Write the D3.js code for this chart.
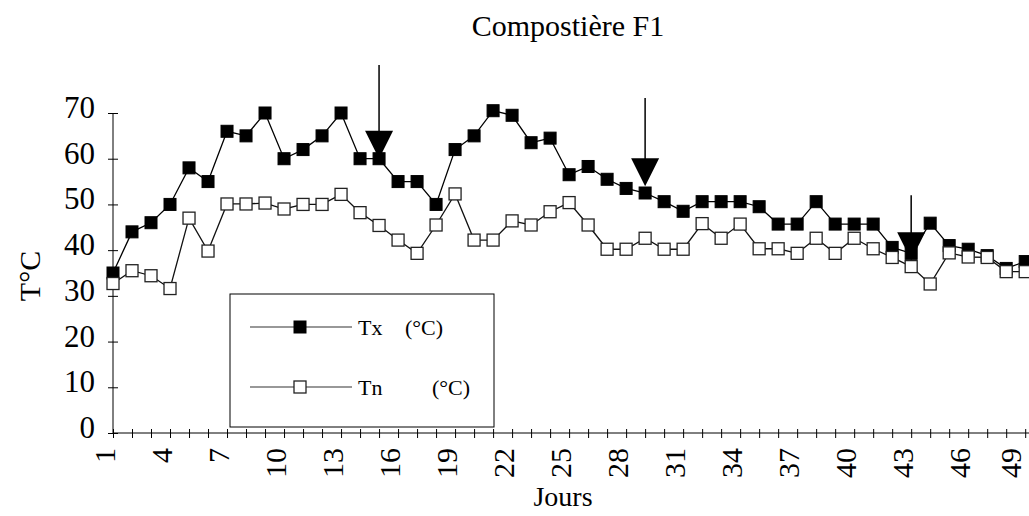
<html>
<script src='https://d3js.org/d3.v7.min.js'></script>
<style>
    body { margin: 0; background: white; }
    text { font-family: 'Liberation Serif', 'Times New Roman', serif; fill: black; }
    .tx { fill: black; stroke: black; }
    .tn { fill: white; stroke: #222; stroke-width: 1.3; }
</style>

<body onload='init()'>
    <svg width=1029 height=516>
    </svg>
    <script>
        // Data (day 1 .. 49)
        let days = d3.range(1, 50);
        let tx = [35, 44, 46, 50, 58, 55, 66, 65, 70, 60, 62, 65, 70, 60, 60, 55, 55, 50, 62, 65,
                  70.5, 69.5, 63.5, 64.5, 56.5, 58.3, 55.5, 53.5, 52.5, 50.6, 48.5, 50.6, 50.6, 50.6, 49.5,
                  45.7, 45.7, 50.6, 45.7, 45.7, 45.7, 40.6, 39.3, 45.9, 41, 40.2, 38.8, 36, 37.5];
        let tn = [32.7, 35.5, 34.4, 31.6, 47, 39.8, 50.1, 50.1, 50.3, 49, 50, 50, 52.2, 48.2, 45.4,
                  42.2, 39.3, 45.5, 52.3, 42.2, 42.2, 46.4, 45.5, 48.4, 50.4, 45.5, 40.2, 40.2, 42.6, 40.2,
                  40.2, 45.8, 42.6, 45.7, 40.3, 40.3, 39.3, 42.6, 39.3, 42.6, 40.3, 38.4, 36.4, 32.6, 39.4,
                  38.5, 38.4, 35.3, 35.3];
        let xTickLabels = d3.range(1, 50, 3);
        let yTickLabels = [0, 10, 20, 30, 40, 50, 60, 70];
        // arrows: day, value at the triangle tip, value at the top of the stem
        let arrowDays = [15, 29, 43];
        let arrowTips = [60, 54, 37.8];
        let arrowTops = [80.5, 73.3, 52];

        function init() {
            let svg = d3.select('svg');

            // Scales
            let x = d3.scaleLinear().domain([1, 49.2]).range([113, 1029]);
            let y = d3.scaleLinear().domain([0, 70]).range([433, 113]);

            // Title
            svg.append('text')
                .attr('x', 568).attr('y', 36)
                .attr('text-anchor', 'middle')
                .style('font-size', '30px')
                .text('Compostière F1');

            // y axis, ticks cross the line
            let yAxis = svg.append('g')
                .attr('transform', 'translate(113,0)')
                .call(d3.axisLeft(y).tickValues(yTickLabels).tickSize(5).tickFormat(''));
            yAxis.selectAll('.tick line').attr('x1', 5).attr('x2', -5);
            yAxis.select('.domain').attr('d', `M0,${y(70)}V${y(0)}`);
            svg.append('g').selectAll('text')
                .data(yTickLabels)
                .enter()
                .append('text')
                .attr('x', 95)
                .attr('y', d => y(d) + 5)
                .attr('text-anchor', 'end')
                .style('font-size', '31px')
                .text(d => d);

            // x axis, one tick per day
            let xAxis = svg.append('g')
                .attr('transform', `translate(0,${y(0)})`)
                .call(d3.axisBottom(x).tickValues(days).tickSize(5).tickFormat(''));
            xAxis.selectAll('.tick line').attr('y1', -4).attr('y2', 5);
            xAxis.select('.domain').attr('d', `M${x(1)},0H1029`);
            svg.append('g').selectAll('text')
                .data(xTickLabels)
                .enter()
                .append('text')
                .attr('transform', d => `translate(${Math.min(x(d) + 2, 1021)},448) rotate(-90)`)
                .attr('text-anchor', 'end')
                .style('font-size', '30px')
                .text(d => d);

            // axis titles
            svg.append('text')
                .attr('x', 563).attr('y', 506)
                .attr('text-anchor', 'middle')
                .style('font-size', '28px')
                .text('Jours');
            svg.append('text')
                .attr('transform', 'translate(40,276) rotate(-90)')
                .attr('text-anchor', 'middle')
                .style('font-size', '30px')
                .text('T°C');

            // Tx series
            let line = d3.line().x((d, i) => x(days[i])).y(d => y(d));
            svg.append('path')
                .datum(tx)
                .attr('d', line)
                .attr('fill', 'none')
                .attr('stroke', 'black')
                .attr('stroke-width', 1.3);
            svg.append('g').selectAll('rect')
                .data(tx)
                .enter()
                .append('rect')
                .attr('class', 'tx')
                .attr('x', (d, i) => x(days[i]) - 6)
                .attr('y', d => y(d) - 6)
                .attr('width', 12).attr('height', 12);

            // arrows
            let arrows = svg.append('g');
            arrowDays.forEach(function (d, i) {
                let ax = x(d);
                arrows.append('line')
                    .attr('x1', ax).attr('x2', ax)
                    .attr('y1', y(arrowTops[i])).attr('y2', y(arrowTips[i]) - 20)
                    .attr('stroke', 'black').attr('stroke-width', 1.5);
                arrows.append('path')
                    .attr('d', `M${ax - 14},${y(arrowTips[i]) - 28}L${ax + 14},${y(arrowTips[i]) - 28}L${ax},${y(arrowTips[i])}Z`)
                    .attr('fill', 'black');
            });

            // Tn series
            svg.append('path')
                .datum(tn)
                .attr('d', line)
                .attr('fill', 'none')
                .attr('stroke', '#111')
                .attr('stroke-width', 1.3);
            svg.append('g').selectAll('rect')
                .data(tn)
                .enter()
                .append('rect')
                .attr('class', 'tn')
                .attr('x', (d, i) => x(days[i]) - 6)
                .attr('y', d => y(d) - 6)
                .attr('width', 12).attr('height', 12);

            // Legend
            let lg = svg.append('g');
            lg.append('rect')
                .attr('x', 230).attr('y', 294)
                .attr('width', 264).attr('height', 133)
                .attr('fill', 'white').attr('stroke', 'black').attr('stroke-width', 1);
            let rows = [
                { name: 'Tx', cls: 'tx', y: 327, unitX: 405 },
                { name: 'Tn', cls: 'tn', y: 387, unitX: 432 }
            ];
            rows.forEach(function (r) {
                lg.append('line')
                    .attr('x1', 250).attr('x2', 352)
                    .attr('y1', r.y).attr('y2', r.y)
                    .attr('stroke', '#333').attr('stroke-width', 1.2);
                lg.append('rect')
                    .attr('class', r.cls)
                    .attr('x', 294).attr('y', r.y - 6)
                    .attr('width', 12).attr('height', 12);
                lg.append('text')
                    .attr('x', 358).attr('y', r.y + 8)
                    .style('font-size', '22px')
                    .text(r.name);
                lg.append('text')
                    .attr('x', r.unitX).attr('y', r.y + 8)
                    .style('font-size', '22px')
                    .text('(°C)');
            });
        }
    </script>
</body>

</html>
